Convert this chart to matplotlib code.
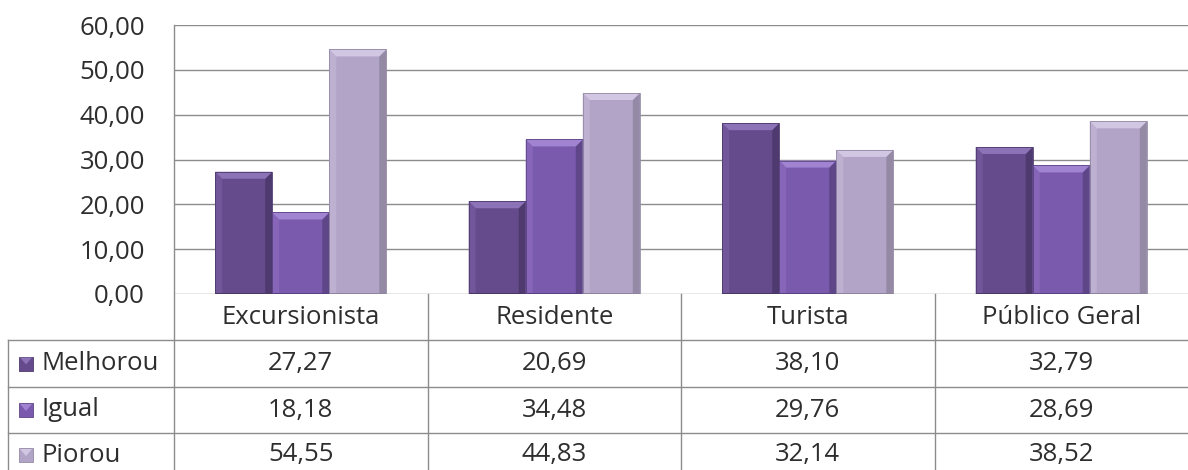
import matplotlib
matplotlib.use("Agg")
import matplotlib.pyplot as plt
from matplotlib.patches import Polygon, Rectangle
import numpy as np

categories = ["Excursionista", "Residente", "Turista", "Público Geral"]
series_names = ["Melhorou", "Igual", "Piorou"]
melhorou = [27.27, 20.69, 38.10, 32.79]
igual = [18.18, 34.48, 29.76, 28.69]
piorou = [54.55, 44.83, 32.14, 38.52]
yticks = [0, 10, 20, 30, 40, 50, 60]

values = [melhorou, igual, piorou]
base_colors = ["#654B8C", "#7A5AAC", "#B2A4C7"]
top_colors = ["#8C72B6", "#A084D2", "#D2C7E2"]
left_colors = ["#715699", "#8766B9", "#BDB0D0"]
right_colors = ["#4E3A6E", "#5F4689", "#948AA6"]
bottom_colors = ["#4A3768", "#5A4282", "#8E849E"]

plt.rcParams['font.family'] = ['Open Sans', 'DejaVu Sans']
TXT = "#2E2E2E"
GRID = "#8C8C8C"
FS = 18.5

W, H = 1188, 470
fig = plt.figure(figsize=(W / 100, H / 100), dpi=100)

def fx(px):
    return px / W

def fy(py):
    return 1 - py / H

ax_l, ax_r, ax_t, ax_b = 174, 1188, 25, 294
ax = fig.add_axes([fx(ax_l), fy(ax_b), fx(ax_r - ax_l), (ax_b - ax_t) / H])
ax.set_xlim(-0.5, len(categories) - 0.5)
ax.set_ylim(0, 60)
for s in ax.spines.values():
    s.set_visible(False)
ax.set_xticks([])
ax.set_yticks(yticks)
ax.set_yticklabels([f"{v:.2f}".replace(".", ",") for v in yticks], fontsize=FS, color=TXT)
ax.tick_params(axis='y', length=0, pad=21)
for v in yticks:
    ax.axhline(v, color=GRID, lw=1.0, zorder=1)

bw = 0.225
px_x = (len(categories)) / (ax_r - ax_l)
px_y = 60 / (ax_b - ax_t)
bev_x = 7 * px_x
bev_y = 7 * px_y
for i, vals in enumerate(values):
    xs = np.arange(len(categories)) + (i - 1) * bw
    bars = ax.bar(xs, vals, width=bw, color=base_colors[i], edgecolor="none", zorder=3)
    for b in bars:
        x0 = b.get_x(); x1 = x0 + b.get_width(); h = b.get_height()
        ax.add_patch(Polygon([[x0, 0], [x0, h], [x0 + bev_x, h - bev_y], [x0 + bev_x, 0]],
                             closed=True, fc=left_colors[i], ec="none", zorder=4))
        ax.add_patch(Polygon([[x1, 0], [x1, h], [x1 - bev_x, h - bev_y], [x1 - bev_x, 0]],
                             closed=True, fc=right_colors[i], ec="none", zorder=4))
        ax.add_patch(Rectangle((x0, 0), x1 - x0, 1.5 * px_y, fc=bottom_colors[i], ec="none", zorder=4))
        ax.add_patch(Polygon([[x0, h], [x1, h], [x1 - bev_x, h - bev_y], [x0 + bev_x, h - bev_y]],
                             closed=True, fc=top_colors[i], ec="none", zorder=5))
        ax.add_patch(Rectangle((x0, 0), x1 - x0, h, fc="none", ec=right_colors[i], lw=0.6, zorder=6))

fig.add_artist(plt.Line2D([fx(ax_l), fx(ax_l)], [fy(ax_t), fy(470)], color=GRID, lw=1.0))

row_lines = [340, 387, 433]
col_w = (ax_r - ax_l) / len(categories)
col_edges = [ax_l + k * col_w for k in range(len(categories) + 1)]
for y in row_lines:
    fig.add_artist(plt.Line2D([fx(8), fx(ax_r)], [fy(y), fy(y)], color=GRID, lw=1.0))
fig.add_artist(plt.Line2D([fx(8), fx(8)], [fy(row_lines[0]), fy(470)], color=GRID, lw=1.0))
for xe in col_edges[1:-1]:
    fig.add_artist(plt.Line2D([fx(xe), fx(xe)], [fy(ax_b), fy(470)], color=GRID, lw=1.0))

header_y = (ax_b + row_lines[0]) / 2
for k, c in enumerate(categories):
    cx = ax_l + (k + 0.5) * col_w
    fig.text(fx(cx), fy(header_y), c, ha="center", va="center", fontsize=FS, color=TXT)

row_tops = row_lines + [480]
for i, name in enumerate(series_names):
    cy = (row_tops[i] + min(row_tops[i + 1], 477)) / 2
    kx, ks = 19, 14
    fig.add_artist(Rectangle((fx(kx), fy(cy + ks / 2)), ks / W, ks / H,
                             fc=base_colors[i], ec=right_colors[i], lw=0.6))
    fig.add_artist(Polygon([[fx(kx + 1), fy(cy - ks / 2 + 1)], [fx(kx + ks - 1), fy(cy - ks / 2 + 1)],
                            [fx(kx + ks / 2), fy(cy + 1)]], closed=True,
                           fc=top_colors[i], ec="none"))
    fig.text(fx(42), fy(cy), name, ha="left", va="center", fontsize=FS, color=TXT)
    for k, v in enumerate(values[i]):
        cx = ax_l + (k + 0.5) * col_w
        fig.text(fx(cx), fy(cy), f"{v:.2f}".replace(".", ","), ha="center", va="center",
                 fontsize=FS, color=TXT)

fig.savefig("out.png", dpi=100, facecolor="white")
